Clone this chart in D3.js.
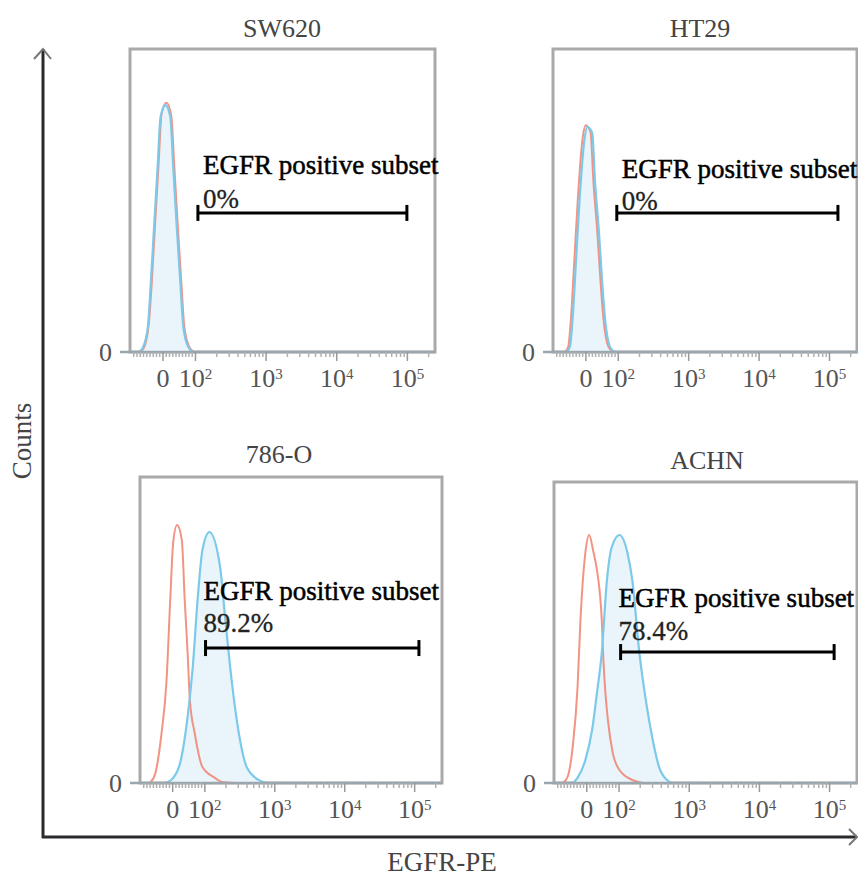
<!DOCTYPE html>
<html><head><meta charset="utf-8">
<script src="https://cdn.jsdelivr.net/npm/d3@7"></script>
<style>body{margin:0;background:#fff}</style>
</head><body><svg id="c" width="858" height="877"></svg>
<script>
// ---------------- DATA ----------------
const categories = ["SW620", "HT29", "786-O", "ACHN"];
const percentLabels = ["0%", "0%", "89.2%", "78.4%"];
const gateText = "EGFR positive subset";
const gateLow = [110, 97, 104, 107];
const gateHigh = [100000, 134000, 117000, 118000];
const gateCount = [45.9, 45.9, 44.1, 43.5];
const tickValues = [0, 100, 1000, 10000, 100000];
const tickLabels = ["0", "10²", "10³", "10⁴", "10⁵"];
const yTickValues = [0];
const yTickLabels = ["0"];
const xTitle = "EGFR-PE";
const yTitle = "Counts";

// [fluorescence value, count (% of panel max)]
const sw620Control = [[-70,0],[-58,1.2],[-43,8.5],[-33,23],[-24,40],[-12,62],[-3,78.5],[12,82.3],[27,78],[36,62],[48,40],[58,23],[67,8.5],[82,1.8],[97,0]];
const sw620EGFR = [[-73,0],[-61,1.3],[-45,8.3],[-36,22.8],[-27,39.3],[-15,61],[-6,77.6],[9,81.5],[24,77.6],[33,61],[45,39.3],[55,22.8],[64,8.3],[79,1.7],[94,0]];
const ht29Control = [[-63,0],[-53,1.7],[-44,11.8],[-35,28.5],[-23,51],[-8,71],[1,74.8],[16,72.5],[25,56],[37,39.5],[47,23],[56,10.8],[71,1.8],[86,0]];
const ht29EGFR = [[-58,0],[-48,1.7],[-39,11.6],[-30,28],[-18,50.2],[-3,70],[6,74.3],[21,72.3],[30,55.8],[42,39.3],[52,22.8],[61,10.6],[76,1.7],[91,0]];
const o786Control = [[-67,0.3],[-52,3.3],[-33,16.3],[-18,32.7],[-6,59.8],[3,78.4],[15,84.3],[30,79.4],[39,59.8],[48,42.5],[55,27.1],[70,16.3],[94,5.2],[143,1.6],[179,0.3],[260,0]];
const o786EGFR = [[-21,0],[3,1.6],[27,7.5],[48,21.6],[64,37.9],[79,59.8],[94,76.1],[118,82],[168,70.6],[198,54.2],[248,32.7],[311,16.3],[403,5.2],[595,1],[770,0]];
const achnControl = [[-70,0.3],[-58,2],[-42,12],[-27,31.9],[-18,54.2],[-3,76.4],[9,82.4],[21,77.4],[33,70.8],[42,63.1],[48,54.2],[52,43.2],[58,31.9],[67,20.9],[82,10],[103,4.3],[157,1],[220,0]];
const achnEGFR = [[-42,0],[-27,1.7],[-3,7.6],[18,17.6],[33,29.9],[48,43.2],[64,67.4],[79,78.4],[103,82.4],[134,76.4],[157,67.4],[198,43.2],[248,26.6],[301,15.3],[378,5.3],[490,1],[577,0]];

const controlSeries = [sw620Control, ht29Control, o786Control, achnControl];
const egfrSeries = [sw620EGFR, ht29EGFR, o786EGFR, achnEGFR];

// ---------------- LAYOUT ----------------
const FONT = "'Liberation Serif','Times New Roman',serif";
const xDomain = [-100, 250000];
const yDomain = [0, 100];
const panels = [
  {left:130, right:435, top:49,  bottom:352, tx:282, ty:37,  l1:-39, l2:-5,  dx:5},
  {left:553, right:857, top:49,  bottom:352, tx:700, ty:37,  l1:-35, l2:-3,  dx:5},
  {left:140, right:442, top:477, bottom:783, tx:279, ty:463, l1:-48, l2:-16, dx:-2},
  {left:554, right:857, top:482, bottom:783, tx:707, ty:469, l1:-45, l2:-12, dx:-2}
];

// biexponential-like display transform
function T(v) { return v >= 100 ? Math.log10(v) : 1.54 + 0.46 * v / 100; }
function makeScale(lin) {
  const f = v => lin(T(v));
  f.copy = () => makeScale(lin.copy());
  f.domain = () => xDomain.slice();
  f.range = () => lin.range();
  return f;
}

const minorTicks = [];
for (let v = -90; v < 100; v += 10) if (v !== 0) minorTicks.push(v);
[100, 1000, 10000].forEach(b => { for (let m = 2; m <= 9; m++) minorTicks.push(b * m); });
minorTicks.push(200000);

const supMap = {"²":"2","³":"3","⁴":"4","⁵":"5"};

const svg = d3.select("#c");

panels.forEach((p, i) => {
  const lin = d3.scaleLinear().domain([T(xDomain[0]), T(xDomain[1])]).range([p.left, p.right]);
  const x = makeScale(lin);
  const y = d3.scaleLinear().domain(yDomain).range([p.bottom, p.top]);
  const g = svg.append("g");

  // frame
  g.append("rect").attr("x", p.left).attr("y", p.top)
    .attr("width", p.right - p.left).attr("height", p.bottom - p.top)
    .attr("fill", "#fff").attr("stroke", "#a9a9a9").attr("stroke-width", 3);

  // histograms
  const area = d3.area().x(d => x(d[0])).y0(y(0)).y1(d => y(d[1])).curve(d3.curveMonotoneX);
  const line = d3.line().x(d => x(d[0])).y(d => y(d[1])).curve(d3.curveMonotoneX);
  g.append("path").datum(egfrSeries[i]).attr("d", area).attr("fill", "#eaf5fb");
  g.append("path").datum(controlSeries[i]).attr("d", line).attr("fill", "none")
    .attr("stroke", "#f0806f").attr("stroke-width", 2).attr("stroke-opacity", 0.85);
  g.append("path").datum(egfrSeries[i]).attr("d", line).attr("fill", "none")
    .attr("stroke", "#7cc9ea").attr("stroke-width", 2.2);

  // baseline
  g.append("line").attr("x1", p.left - 10).attr("x2", p.right)
    .attr("y1", y(0)).attr("y2", y(0)).attr("stroke", "#9aa6ae").attr("stroke-width", 2.5);

  // x axis: minor
  const minorAxis = d3.axisBottom(x).tickValues(minorTicks).tickSize(5).tickFormat("").tickSizeOuter(0);
  const gm = g.append("g").attr("transform", `translate(0,${y(0)})`).call(minorAxis);
  gm.select(".domain").remove();
  gm.selectAll("line").attr("stroke", "#b0b0b0").attr("stroke-width", 1.5);

  // x axis: major
  const majorAxis = d3.axisBottom(x).tickValues(tickValues).tickSize(9).tickPadding(8)
    .tickFormat((d, k) => tickLabels[k]).tickSizeOuter(0);
  const ga = g.append("g").attr("transform", `translate(0,${y(0)})`).call(majorAxis);
  ga.select(".domain").remove();
  ga.selectAll("line").attr("stroke", "#999").attr("stroke-width", 1.5);
  ga.selectAll("text").attr("font-family", FONT).attr("font-size", 26).attr("fill", "#555")
    .each(function() {
      const t = d3.select(this); const s = t.text();
      const last = s.slice(-1);
      if (supMap[last]) {
        t.text(null);
        t.append("tspan").text(s.slice(0, -1));
        t.append("tspan").attr("font-size", 15).attr("dy", "-0.55em").text(supMap[last]);
      }
    });

  // y axis "0"
  const yAxis = d3.axisLeft(y).tickValues(yTickValues).tickSize(0).tickPadding(18)
    .tickFormat((d, k) => yTickLabels[k]);
  const gy = g.append("g").attr("transform", `translate(${p.left},0)`).call(yAxis);
  gy.select(".domain").remove();
  gy.selectAll("text").attr("font-family", FONT).attr("font-size", 26).attr("fill", "#555");

  // title
  g.append("text").attr("x", p.tx).attr("y", p.ty).attr("text-anchor", "middle")
    .attr("font-family", FONT).attr("font-size", 26).attr("fill", "#444").text(categories[i]);

  // gate
  const gy0 = y(gateCount[i]);
  const gx1 = x(gateLow[i]), gx2 = x(gateHigh[i]);
  g.append("line").attr("x1", gx1).attr("x2", gx2).attr("y1", gy0).attr("y2", gy0)
    .attr("stroke", "#000").attr("stroke-width", 3);
  [gx1, gx2].forEach(gx => g.append("line").attr("x1", gx).attr("x2", gx)
    .attr("y1", gy0 - 8).attr("y2", gy0 + 8).attr("stroke", "#000").attr("stroke-width", 3));
  g.append("text").attr("x", gx1 + p.dx).attr("y", gy0 + p.l1)
    .attr("font-family", FONT).attr("font-size", 27).attr("fill", "#000")
    .attr("stroke", "#000").attr("stroke-width", 0.5).text(gateText);
  g.append("text").attr("x", gx1 + p.dx).attr("y", gy0 + p.l2)
    .attr("font-family", FONT).attr("font-size", 27).attr("fill", "#222")
    .attr("stroke", "#222").attr("stroke-width", 0.3).text(percentLabels[i]);
});

// big axes
svg.append("line").attr("x1", 43).attr("x2", 43).attr("y1", 49).attr("y2", 838)
  .attr("stroke", "#2b2a2e").attr("stroke-width", 3);
svg.append("line").attr("x1", 42).attr("x2", 857).attr("y1", 837).attr("y2", 837)
  .attr("stroke", "#2b2a2e").attr("stroke-width", 3);
svg.append("path").attr("d", "M34,59 L43,49 L51,59").attr("fill", "none")
  .attr("stroke", "#777").attr("stroke-width", 2);
svg.append("path").attr("d", "M849,829 L857,837 L849,845").attr("fill", "none")
  .attr("stroke", "#777").attr("stroke-width", 2);

svg.append("text").attr("transform", "translate(31,441) rotate(-90)").attr("text-anchor", "middle")
  .attr("font-family", FONT).attr("font-size", 27).attr("fill", "#444").text(yTitle);
svg.append("text").attr("x", 442).attr("y", 871).attr("text-anchor", "middle")
  .attr("font-family", FONT).attr("font-size", 27).attr("fill", "#444").text(xTitle);
</script>
</body></html>
